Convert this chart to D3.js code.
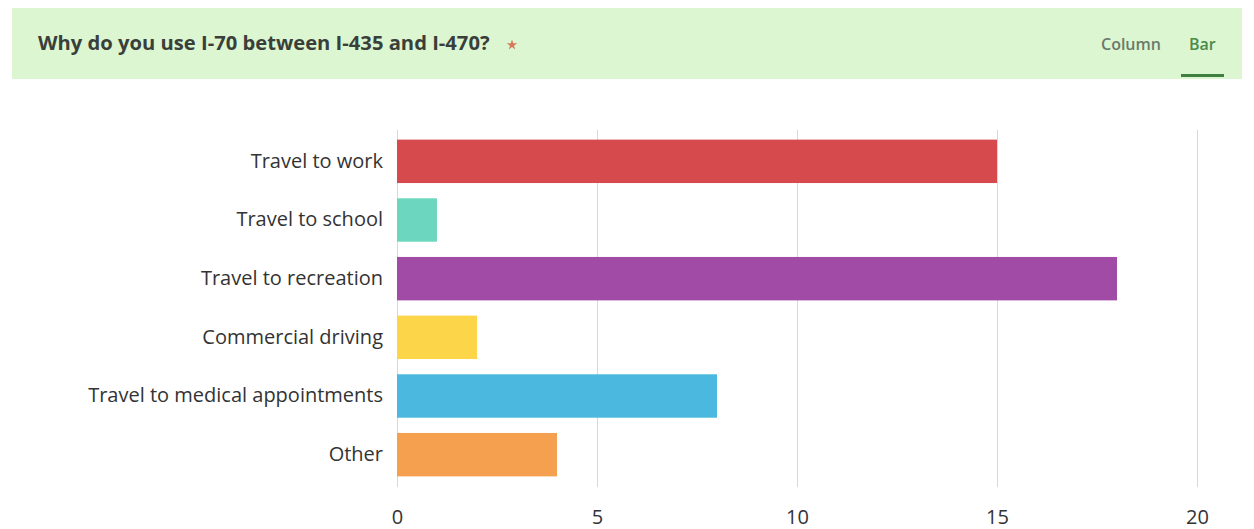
<!DOCTYPE html>
<html>
<head>
<meta charset="utf-8">
<script src="https://cdn.jsdelivr.net/npm/d3@7"></script>
<style>
  html, body { margin: 0; padding: 0; background: #ffffff; }
  svg { display: block; }
</style>
</head>
<body>
<svg id="chart" width="1254" height="529"></svg>
<script>
// Survey answers and response counts
const categories = [
  "Travel to work",
  "Travel to school",
  "Travel to recreation",
  "Commercial driving",
  "Travel to medical appointments",
  "Other"
];
const counts = [15, 1, 18, 2, 8, 4];
const barColors = ["#d64a4e", "#6dd6bf", "#a14ba7", "#fdd549", "#4bb8df", "#f5a04e"];
const tickValues = [0, 5, 10, 15, 20];
const title = "Why do you use I-70 between I-435 and I-470?";
const tabs = ["Column", "Bar"];

const svg = d3.select("#chart");

// Header band
svg.append("rect")
  .attr("x", 12).attr("y", 8).attr("width", 1230).attr("height", 71)
  .attr("fill", "#dcf6d2");

const titleText = svg.append("text")
  .attr("x", 38).attr("y", 50)
  .attr("font-family", "'Open Sans', Lato, sans-serif")
  .attr("font-weight", "bold")
  .attr("font-size", 18)
  .attr("fill", "#3a3f3a")
  .text(title);
// size the heading so it spans its slot in the header
const tw = titleText.node().getComputedTextLength();
titleText.attr("font-size", 18 * 452 / tw);

// required-question marker
svg.append("path")
  .attr("transform", "translate(512,45)")
  .attr("d", d3.symbol(d3.symbolStar, 34)())
  .attr("fill", "#d9785a");

svg.append("text")
  .attr("x", 1101).attr("y", 50)
  .attr("font-family", "'Open Sans', Lato, sans-serif")
  .attr("font-weight", 600)
  .attr("font-size", 16)
  .attr("fill", "#6b7a6b")
  .text(tabs[0]);

svg.append("text")
  .attr("x", 1189).attr("y", 50)
  .attr("font-family", "'Open Sans', Lato, sans-serif")
  .attr("font-weight", 600)
  .attr("font-size", 16)
  .attr("fill", "#4a8a4a")
  .text(tabs[1]);

svg.append("rect")
  .attr("x", 1181).attr("y", 74).attr("width", 43).attr("height", 3)
  .attr("fill", "#3f7f3f");

// Scales
const x = d3.scaleLinear().domain([0, 20]).range([397, 1197]);
const y = d3.scaleBand()
  .domain(categories)
  .range([132, 484])
  .paddingInner(0.26)
  .paddingOuter(0.13);

// Vertical gridlines
svg.append("g")
  .selectAll("line")
  .data(tickValues)
  .join("line")
  .attr("x1", d => x(d) + 0.5).attr("x2", d => x(d) + 0.5)
  .attr("y1", 130).attr("y2", 487)
  .attr("stroke", "#d8d8d8")
  .attr("stroke-width", 1);

// Bars
svg.append("g")
  .selectAll("rect")
  .data(categories)
  .join("rect")
  .attr("x", x(0))
  .attr("y", d => y(d))
  .attr("width", (d, i) => x(counts[i]) - x(0))
  .attr("height", y.bandwidth())
  .attr("fill", (d, i) => barColors[i]);

// Category labels
const yAxis = svg.append("g")
  .attr("transform", `translate(${x(0) - 4},0)`)
  .call(d3.axisLeft(y).tickSize(0).tickPadding(10));
yAxis.select(".domain").remove();
yAxis.selectAll("text")
  .attr("font-family", "'Open Sans', 'Noto Sans', sans-serif")
  .attr("font-size", 20)
  .attr("fill", "#333");

// Value axis
const xAxis = svg.append("g")
  .attr("transform", "translate(0,500)")
  .call(d3.axisBottom(x).tickValues(tickValues).tickSize(0).tickPadding(10));
xAxis.select(".domain").remove();
xAxis.selectAll("text")
  .attr("font-family", "'Open Sans', 'Noto Sans', sans-serif")
  .attr("font-size", 20)
  .attr("fill", "#333");
</script>
</body>
</html>
